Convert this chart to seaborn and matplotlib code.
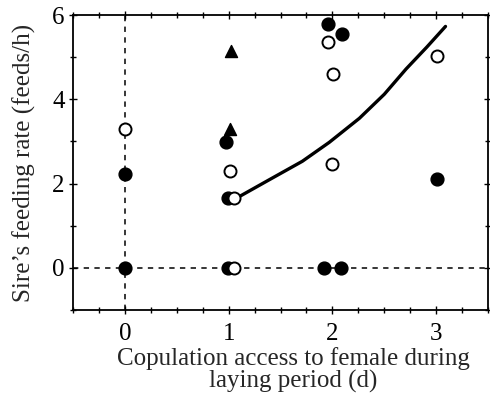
import matplotlib
matplotlib.use('Agg')
import matplotlib.pyplot as plt
import seaborn as sns
from matplotlib.ticker import MultipleLocator

# ==================================================
# DATA
# ==================================================

# filled circles
filled_x = [0.0, 0.0, 0.97, 0.99, 0.99, 1.96, 2.09, 1.92, 2.08, 3.01]
filled_y = [2.23, 0.0, 2.98, 1.66, 0.0, 5.78, 5.55, 0.0, 0.0, 2.11]

# open circles
open_x = [0.0, 1.01, 1.05, 1.05, 1.96, 2.01, 2.0, 3.01]
open_y = [3.3, 2.3, 1.66, 0.0, 5.36, 4.6, 2.46, 5.02]

# filled triangles
tri_x = [1.02, 1.01]
tri_y = [5.14, 3.3]

# fitted curve
curve_x = [1.05, 1.39, 1.71, 1.97, 2.26, 2.5, 2.71, 2.91, 3.09]
curve_y = [1.62, 2.09, 2.53, 2.98, 3.55, 4.12, 4.72, 5.24, 5.73]

# ==================================================
# PLOT
# ==================================================

sns.set_style('ticks')
plt.rcParams['font.family'] = ['Liberation Serif', 'DejaVu Serif']

fig = plt.figure(figsize=(4.9, 3.96), dpi=100)
ax = fig.add_axes([0.149, 0.217, 0.847, 0.745])

ax.axhline(0, color='black', lw=1.1, ls=(0, (3.5, 3.5)), zorder=1)
ax.axvline(0, color='black', lw=1.1, ls=(0, (3.5, 3.5)), zorder=1)

sns.lineplot(x=curve_x, y=curve_y, ax=ax, color='black', lw=2.4, zorder=2)

sns.scatterplot(x=filled_x, y=filled_y, ax=ax, marker='o', s=85,
                color='black', edgecolor='black', linewidth=1, zorder=3)
sns.scatterplot(x=open_x, y=open_y, ax=ax, marker='o', s=75,
                facecolor='white', edgecolor='black', linewidth=1.4, zorder=4)
sns.scatterplot(x=tri_x, y=tri_y, ax=ax, marker='^', s=75,
                color='black', edgecolor='black', linewidth=1, zorder=3)

ax.set_xlim(-0.5, 3.5)
ax.set_ylim(-1, 6)

ax.xaxis.set_minor_locator(MultipleLocator(0.25))
ax.yaxis.set_minor_locator(MultipleLocator(1))
ax.set_xticks([0, 1, 2, 3])
ax.set_yticks([0, 2, 4, 6])

ax.tick_params(which='both', direction='inout', top=True, right=True,
               width=1, labelsize=18, color='black', labelcolor='black')
ax.tick_params(which='major', length=6)
ax.tick_params(which='minor', length=4)
ax.tick_params(axis='x', which='major', pad=6)
ax.tick_params(axis='y', which='major', pad=3)

for sp in ax.spines.values():
    sp.set_visible(True)
    sp.set_linewidth(1.3)
    sp.set_color('black')

ax.set_xlabel('Copulation access to female during\nlaying period (d)',
              fontsize=18, linespacing=0.95, labelpad=2)
ax.xaxis.label.set_x(0.53)
ax.set_ylabel('Sire\u2019s feeding rate (feeds/h)', fontsize=18, labelpad=12)

plt.savefig('out.png', dpi=100)
